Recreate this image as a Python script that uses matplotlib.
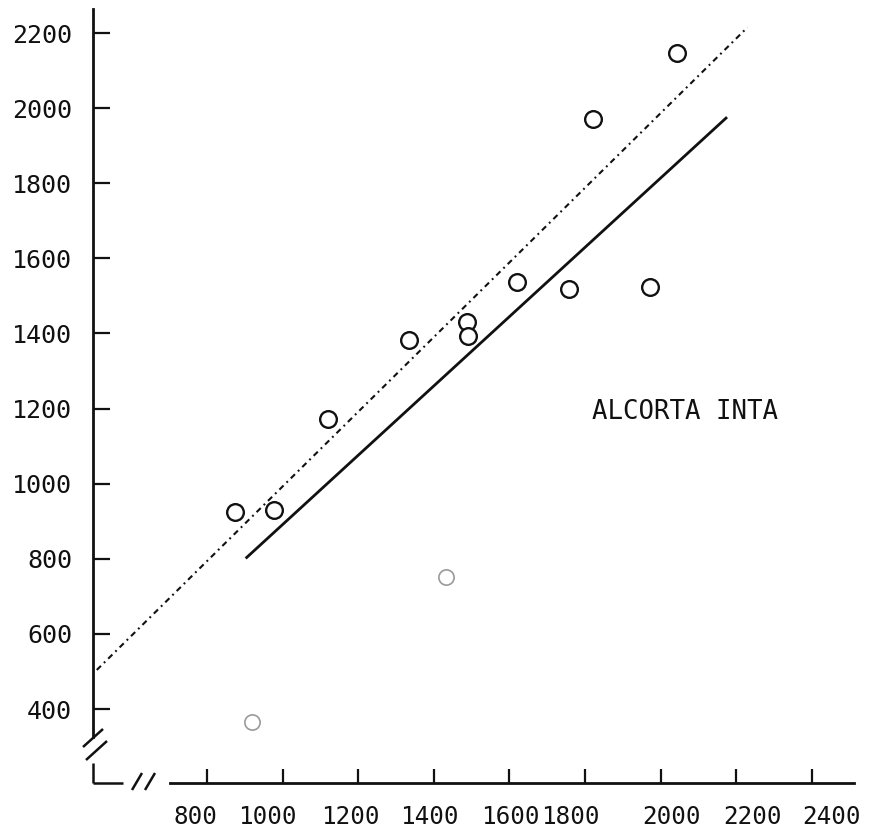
import matplotlib
matplotlib.use("Agg")
import matplotlib.pyplot as plt
import matplotlib.transforms as mtransforms

# ---- data ----
x_vals = [874, 977, 1119, 1333, 1487, 1490, 1621, 1758, 1820, 1972, 2043]
y_vals = [925, 930, 1171, 1383, 1431, 1393, 1536, 1518, 1971, 1525, 2146]
faint_x = [918, 1432]
faint_y = [366, 751]
solid_line_x = [902, 2176]
solid_line_y = [801, 1976]
dashdot_line_x = [508, 2230]
dashdot_line_y = [504, 2215]
x_ticks = [800, 1000, 1200, 1400, 1600, 1800, 2000, 2200, 2400]
y_ticks = [400, 600, 800, 1000, 1200, 1400, 1600, 1800, 2000, 2200]
x_tick_labels = [str(v) for v in x_ticks]
y_tick_labels = [str(v) for v in y_ticks]
annotation = "ALCORTA INTA"

# ---- layout ----
W, H = 869, 833
fig = plt.figure(figsize=(W / 100, H / 100), dpi=100)
ax_left, ax_right, ax_top, ax_bottom = 93, 854, 9, 783
ax = fig.add_axes([ax_left / W, (H - ax_bottom) / H,
                   (ax_right - ax_left) / W, (ax_bottom - ax_top) / H])
ax.set_xlim(498, 2512)
ax.set_ylim(203, 2264)

ink = "#111111"
font = "DejaVu Sans Mono"

ax.plot(dashdot_line_x, dashdot_line_y, color=ink, lw=1.5,
        dashes=(2.8, 2.0, 0.9, 2.0))
ax.plot(solid_line_x, solid_line_y, color=ink, lw=2.0, solid_capstyle="butt")
ax.plot(x_vals, y_vals, linestyle="none", marker="o", ms=12,
        mfc="white", mec=ink, mew=1.7)
ax.plot(faint_x, faint_y, linestyle="none", marker="o", ms=11,
        mfc="none", mec="#9a9a9a", mew=1.2)

ax.text(1818, 1190, annotation, fontsize=18.5, family=font, color=ink,
        ha="left", va="center")

# spines
for s in ["top", "right"]:
    ax.spines[s].set_visible(False)
ax.spines["left"].set_bounds(325, 2264)
ax.spines["bottom"].set_bounds(702, 2512)
for s in ["left", "bottom"]:
    ax.spines[s].set_linewidth(2.0)
    ax.spines[s].set_color(ink)

# extra axis segments + break marks (pixel based)
def px(xp, yp):
    return ((xp - ax_left) / (ax_right - ax_left), (ax_bottom - yp) / (ax_bottom - ax_top))

segs = [
    [(93, 763), (93, 783)],
    [(93, 783), (123, 783)],
    [(83, 747), (103, 729)],
    [(86, 760), (107, 741)],
    [(132, 790), (142, 773)],
    [(145, 790), (155, 773)],
]
for (a, b) in segs:
    p1, p2 = px(*a), px(*b)
    ax.plot([p1[0], p2[0]], [p1[1], p2[1]], transform=ax.transAxes,
            color=ink, lw=1.8, clip_on=False, solid_capstyle="butt")

ax.set_xticks(x_ticks)
ax.set_xticklabels(x_tick_labels, family=font, fontsize=17.5, color=ink)
ax.set_yticks(y_ticks)
ax.set_yticklabels(y_tick_labels, family=font, fontsize=18, color=ink)
ax.tick_params(axis="x", direction="in", length=10, width=1.6, pad=16, color=ink)
ax.tick_params(axis="y", direction="in", length=12, width=1.6, pad=15, color=ink)

# small horizontal offsets of typed x labels (pixels)
label_shift_px = [-12, -15, -8, -5, 1, -15, 11, 16, 20]
for lab, dx in zip(ax.get_xticklabels(), label_shift_px):
    lab.set_transform(lab.get_transform() +
                      mtransforms.ScaledTranslation(dx / 100, 0, fig.dpi_scale_trans))

fig.savefig("out.png", dpi=100, facecolor="white")
